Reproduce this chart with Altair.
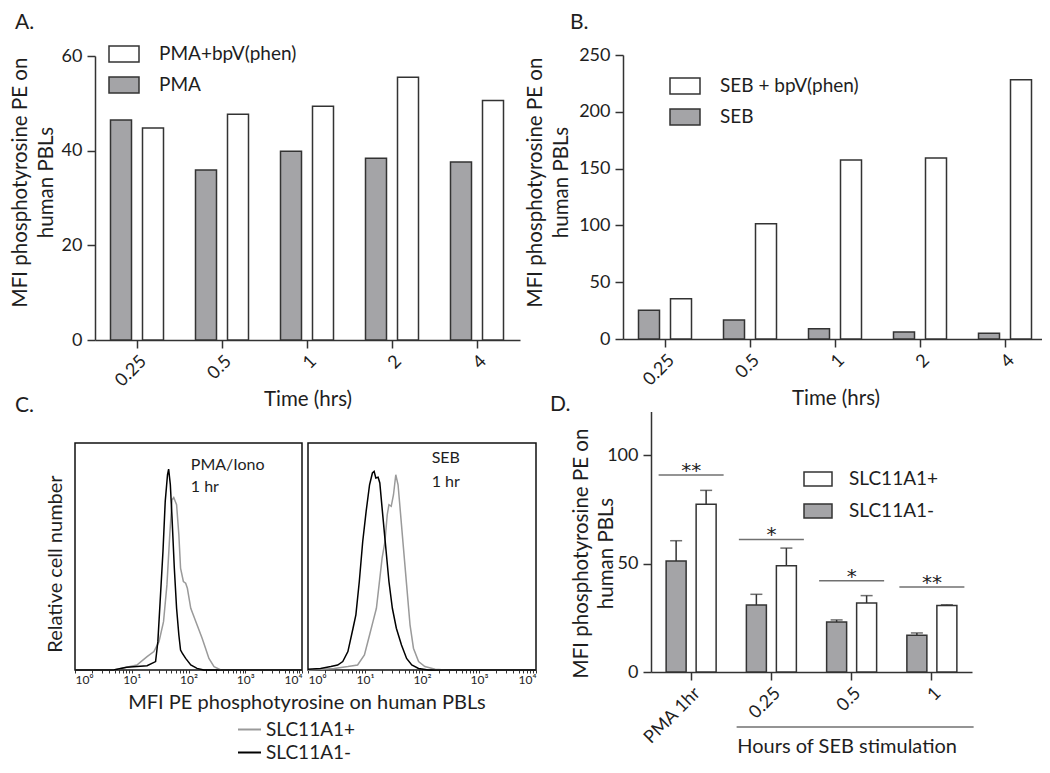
import math
import altair as alt
import pandas as pd

W, H = 1034, 757
FONT = "Lato"
INK = "#1e1e1e"
AX = "#333333"
GRAY = "#a4a4a7"

# ---------------- data ----------------
# Panel A
times = ["0.25", "0.5", "1", "2", "4"]
pma = [46.5, 35.9, 39.9, 38.4, 37.6]
pma_bpv = [44.8, 47.7, 49.4, 55.5, 50.6]
# Panel B
seb = [25.3, 16.7, 9.1, 6.2, 5.0]
seb_bpv = [35.5, 101.5, 157.6, 159.3, 228.3]
# Panel C (x = log10 MFI, y = relative cell number, % of box height)
pma_neg_x = [0.0, 0.68, 0.91, 1.27, 1.42, 1.46, 1.50, 1.55, 1.59, 1.63, 1.65, 1.68, 1.71,
             1.75, 1.79, 1.83, 1.86, 1.89, 1.95, 2.04, 2.15, 2.27, 4.0]
pma_neg_y = [0, 0, 1.2, 1.9, 3.7, 12.5, 30.1, 52.2, 74.3, 86.0, 88.5, 81.6, 66.9,
             44.9, 27.2, 15.4, 8.8, 7.4, 5.1, 2.2, 0.7, 0, 0]
pma_pos_x = [0.0, 0.68, 1.09, 1.27, 1.39, 1.48, 1.56, 1.62, 1.67, 1.71, 1.74, 1.79, 1.83,
             1.86, 1.91, 1.95, 1.98, 2.04, 2.15, 2.24, 2.30, 2.36, 2.45, 2.57, 4.0]
pma_pos_y = [0, 0, 2.2, 5.9, 8.1, 12.5, 21.3, 37.5, 59.6, 75.0, 76.0, 72.8, 59.6,
             44.9, 39.0, 38.2, 36.0, 27.2, 19.9, 14.0, 9.6, 5.1, 1.5, 0, 0]
seb_neg_x = [0.0, 0.22, 0.40, 0.52, 0.61, 0.70, 0.79, 0.84, 0.90, 0.96, 1.02, 1.08, 1.13,
             1.16, 1.19, 1.23, 1.26, 1.30, 1.36, 1.42, 1.48, 1.55, 1.64, 1.73, 1.82, 1.94,
             2.11, 4.0]
seb_neg_y = [0.3, 0.7, 1.5, 2.2, 3.7, 8.1, 18.4, 24.3, 39.0, 56.6, 69.9, 81.6, 86.8,
             87.5, 84.6, 84.9, 82.4, 71.3, 55.1, 39.0, 27.2, 18.4, 11.0, 5.1, 2.2, 0.7,
             0, 0]
seb_pos_x = [0.0, 0.46, 0.70, 0.87, 0.99, 1.08, 1.14, 1.20, 1.26, 1.30, 1.35, 1.39, 1.42,
             1.46, 1.50, 1.54, 1.58, 1.62, 1.67, 1.73, 1.79, 1.85, 1.94, 2.05, 2.23, 2.41,
             4.0]
seb_pos_y = [0, 0.7, 1.5, 2.2, 6.6, 15.4, 21.3, 27.2, 40.4, 49.3, 56.6, 68.4, 72.8,
             72.1, 77.2, 86.0, 81.6, 69.9, 55.1, 37.5, 19.9, 9.6, 3.7, 1.5, 0.3, 0, 0]
decade_labels = ["10\u2070", "10\u00b9", "10\u00b2", "10\u00b3", "10\u2074"]
# Panel D
d_cats = ["PMA 1hr", "0.25", "0.5", "1"]
neg_mean = [51.2, 30.9, 23.0, 16.9]
neg_top = [60.5, 35.8, 24.0, 18.0]
pos_mean = [77.3, 49.0, 31.8, 30.6]
pos_top = [83.7, 57.1, 35.2, 31.0]
sig_y = [90.8, 61.1, 42.1, 39.2]
sig_lab = ["**", "*", "*", "**"]

YTITLE = ["MFI phosphotyrosine PE on", "human PBLs"]


def box_symbol(ratio):
    return f"M-1,-{ratio}H1V{ratio}H-1Z"


def bar_panel(cats, gvals, wvals, gname, wname, xr, yr, ydom, yvals, xoff_axis, yoff_axis,
              title_x, title_y, line_h, leg_x, leg_y, xtitle):
    df = pd.DataFrame({"t": cats * 2, "v": gvals + wvals,
                       "s": [gname] * len(cats) + [wname] * len(cats)})
    x = alt.X("t:N", sort=cats,
              scale=alt.Scale(domain=cats, range=xr, paddingInner=0, paddingOuter=0),
              axis=alt.Axis(orient="bottom", offset=xoff_axis, title=xtitle, labelAngle=315,
                            tickSize=8, labelPadding=4, titlePadding=0))
    y = alt.Y("v:Q", scale=alt.Scale(domain=ydom, range=yr, nice=False),
              axis=alt.Axis(orient="left", offset=yoff_axis, values=yvals, title=YTITLE,
                            titleX=title_x, titleY=title_y, titleAngle=270,
                            titleAlign="center", titleBaseline="alphabetic",
                            titleLineHeight=line_h, tickSize=8, labelPadding=5))
    fill = alt.Fill("s:N", scale=alt.Scale(domain=[wname, gname], range=["white", GRAY]),
                    legend=alt.Legend(orient="none", legendX=leg_x, legendY=leg_y, title=None,
                                      symbolType=box_symbol(0.533), symbolSize=900,
                                      symbolStrokeColor=AX, symbolStrokeWidth=1.5,
                                      labelFontSize=19, labelOffset=19, rowPadding=4,
                                      padding=0))
    base = alt.Chart(df).encode(x=x, y=y, fill=fill)
    g = base.transform_filter(alt.datum.s == gname).mark_bar(
        width=21, xOffset=-16.5, stroke=AX, strokeWidth=1.5)
    w = base.transform_filter(alt.datum.s == wname).mark_bar(
        width=21, xOffset=15.5, stroke=AX, strokeWidth=1.5)
    return alt.layer(g, w)


panelA = bar_panel(times, pma, pma_bpv, "PMA", "PMA+bpV(phen)", [87, 512], [332, 48],
                   [0, 60], [0, 20, 40, 60], -425, -87, -69, 174, 26, 100, 30, "Time (hrs)")
panelB = bar_panel(times, seb, seb_bpv, "SEB", "SEB + bpV(phen)", [615, 1040], [331, 47],
                   [0, 250], [0, 50, 100, 150, 200, 250], -426, -615, -81.5, 174, 26,
                   661, 62, "Time (hrs)")

# ---------------- Panel C ----------------
tick_pos = []
for d in range(4):
    for k in range(1, 10):
        tick_pos.append(round(d + math.log10(k), 5))
tick_pos.append(4)
label_expr = ("datum.value % 1 == 0 ? ['" + "','".join(decade_labels) + "'][datum.value] : ''")


def hist_panel(neg_x, neg_y, pos_x, pos_y, xr, xoff, notes, legend):
    df = pd.DataFrame({
        "x": pos_x + neg_x,
        "y": pos_y + neg_y,
        "s": ["SLC11A1+"] * len(pos_x) + ["SLC11A1-"] * len(neg_x),
        "i": list(range(len(pos_x))) + list(range(len(neg_x))),
    })
    xs = alt.Scale(domain=[0, 4], range=xr, nice=False, zero=False)
    ys = alt.Scale(domain=[0, 100], range=[662, 435], nice=False)
    xaxis = alt.Axis(orient="bottom", offset=xoff, values=tick_pos, labelExpr=label_expr,
                     domain=False, tickSize=3, tickWidth=1, labelFontSize=12,
                     labelFlush=True, labelOverlap=False, labelPadding=1, title=None)
    box = alt.Chart(pd.DataFrame({"x": [0], "x2": [4], "y": [0], "y2": [100]})).mark_rect(
        fillOpacity=0, stroke="#111111", strokeWidth=1.5).encode(
        x=alt.X("x:Q", scale=xs, axis=xaxis), x2="x2:Q",
        y=alt.Y("y:Q", scale=ys, axis=None), y2="y2:Q")
    lines = alt.Chart(df).mark_line(strokeWidth=1.5).encode(
        x=alt.X("x:Q", scale=xs, axis=xaxis),
        y=alt.Y("y:Q", scale=ys, axis=None),
        stroke=alt.Stroke("s:N", scale=alt.Scale(domain=["SLC11A1+", "SLC11A1-"],
                                                 range=["#9a9a9a", "#000000"]),
                          legend=legend),
        order="i:Q",
    )
    txt = alt.Chart(pd.DataFrame(notes)).mark_text(
        font=FONT, fontSize=16, align="left", baseline="alphabetic", color=INK).encode(
        x=alt.X("x:Q", scale=xs, axis=xaxis), y=alt.Y("y:Q", scale=ys, axis=None),
        text="t:N")
    return alt.layer(box, lines, txt)


c_legend = alt.Legend(orient="none", legendX=229, legendY=709, title=None, symbolType="stroke",
                      symbolSize=529, symbolStrokeWidth=2, labelFontSize=19, labelOffset=4,
                      rowPadding=0, padding=0)
panelCL = hist_panel(pma_neg_x, pma_neg_y, pma_pos_x, pma_pos_y, [67, 294], -95,
                     {"x": [2.04, 2.04], "y": [88.1, 78.4], "t": ["PMA/Iono", "1 hr"]}, c_legend)
panelCR = hist_panel(seb_neg_x, seb_neg_y, seb_pos_x, seb_pos_y, [300, 528], -95,
                     {"x": [2.17, 2.17], "y": [91.2, 80.7], "t": ["SEB", "1 hr"]}, None)

# ---------------- Panel D ----------------
dfD = pd.DataFrame({"cat": d_cats * 2, "mean": neg_mean + pos_mean, "top": neg_top + pos_top,
                    "s": ["SLC11A1-"] * 4 + ["SLC11A1+"] * 4})
dfSig = pd.DataFrame({"cat": d_cats, "sig": sig_y, "lab": sig_lab})
xD = alt.X("cat:N", sort=d_cats,
           scale=alt.Scale(domain=d_cats, range=[643, 964], paddingInner=0, paddingOuter=0),
           axis=alt.Axis(orient="bottom", offset=-93, title=None, labelAngle=315, tickSize=8,
                         labelPadding=4))
yD = alt.Y("mean:Q", scale=alt.Scale(domain=[0, 120], range=[664, 403.6], nice=False),
           axis=alt.Axis(orient="left", offset=-643, values=[0, 50, 100], title=YTITLE,
                         titleX=-64, titleY=545, titleAngle=270, titleAlign="center",
                         titleBaseline="alphabetic", titleLineHeight=25, tickSize=8,
                         labelPadding=5))
fillD = alt.Fill("s:N", scale=alt.Scale(domain=["SLC11A1+", "SLC11A1-"], range=["white", GRAY]),
                 legend=alt.Legend(orient="none", legendX=795, legendY=456, title=None,
                                   symbolType=box_symbol(0.5), symbolSize=784,
                                   symbolStrokeColor=AX, symbolStrokeWidth=1.5,
                                   labelFontSize=19, labelOffset=16, rowPadding=7, padding=0))
baseD = alt.Chart(dfD).encode(x=xD, y=yD)
layersD = []
for name, off in [("SLC11A1-", -15), ("SLC11A1+", 15)]:
    sub = baseD.transform_filter(alt.datum.s == name)
    layersD.append(sub.mark_rule(xOffset=off, color=AX, strokeWidth=1.5).encode(y2="top:Q"))
    layersD.append(sub.mark_tick(orient="horizontal", size=12, thickness=1.5, xOffset=off,
                                 color=AX).encode(y=alt.Y("top:Q")))
    layersD.append(sub.mark_bar(width=20, xOffset=off, stroke=AX, strokeWidth=1.5).encode(
        fill=fillD))
sigBase = alt.Chart(dfSig).encode(x=xD, y=alt.Y("sig:Q"))
layersD.append(sigBase.mark_tick(orient="horizontal", size=65, thickness=1.5, color=AX))
layersD.append(sigBase.mark_text(font="DejaVu Sans", fontSize=20, baseline="alphabetic", dy=2,
                                 color=INK).encode(text="lab:N"))
dfBr = pd.DataFrame({"cat": ["0.5"], "t": ["Hours of SEB stimulation"]})
layersD.append(alt.Chart(dfBr).mark_tick(orient="horizontal", size=237, thickness=1.5,
                                         xOffset=3.5, color=AX).encode(x=xD, y=alt.value(719)))
layersD.append(alt.Chart(dfBr).mark_text(font=FONT, fontSize=20, baseline="alphabetic",
                                         dx=-4.5, color=INK).encode(
    x=xD, y=alt.value(745), text="t:N"))
panelD = alt.layer(*layersD)

# ---------------- free text ----------------
one = alt.Data(values=[{"a": 1}])
texts = []
for t, x, y in [("A.", 7, 21), ("B.", 562, 21), ("C.", 7, 404), ("D.", 542, 403)]:
    texts.append(alt.Chart(one).mark_text(font=FONT, fontSize=21, align="left",
                                          baseline="alphabetic", color=INK).encode(
        x=alt.value(x), y=alt.value(y), text=alt.value(t)))
texts.append(alt.Chart(one).mark_text(font=FONT, fontSize=20, align="center",
                                      baseline="alphabetic", color=INK).encode(
    x=alt.value(299), y=alt.value(701), text=alt.value("MFI PE phosphotyrosine on human PBLs")))
texts.append(alt.Chart(one).mark_text(font=FONT, fontSize=20, align="center", angle=270,
                                      baseline="alphabetic", color=INK).encode(
    x=alt.value(53.7), y=alt.value(556), text=alt.value("Relative cell number")))
annot = alt.layer(*texts)

chart = alt.layer(panelA, panelB, panelCL, panelCR, panelD, annot).resolve_scale(
    x="independent", y="independent", fill="independent", stroke="independent"
).resolve_axis(x="independent", y="independent").resolve_legend(
    fill="independent", stroke="independent"
).properties(
    width=W, height=H, autosize=alt.AutoSizeParams(type="none"), padding=0,
    background="white"
).configure_view(stroke=None).configure_axis(
    grid=False, domainColor=AX, domainWidth=1.5, tickColor=AX, tickWidth=1.5,
    labelFont=FONT, labelColor=INK, labelFontSize=18, titleFont=FONT, titleColor=INK,
    titleFontWeight="normal", titleFontSize=20.5
).configure_legend(labelFont=FONT, labelColor=INK)

chart.save("out.html", embed_options={"renderer": "svg", "actions": False})
